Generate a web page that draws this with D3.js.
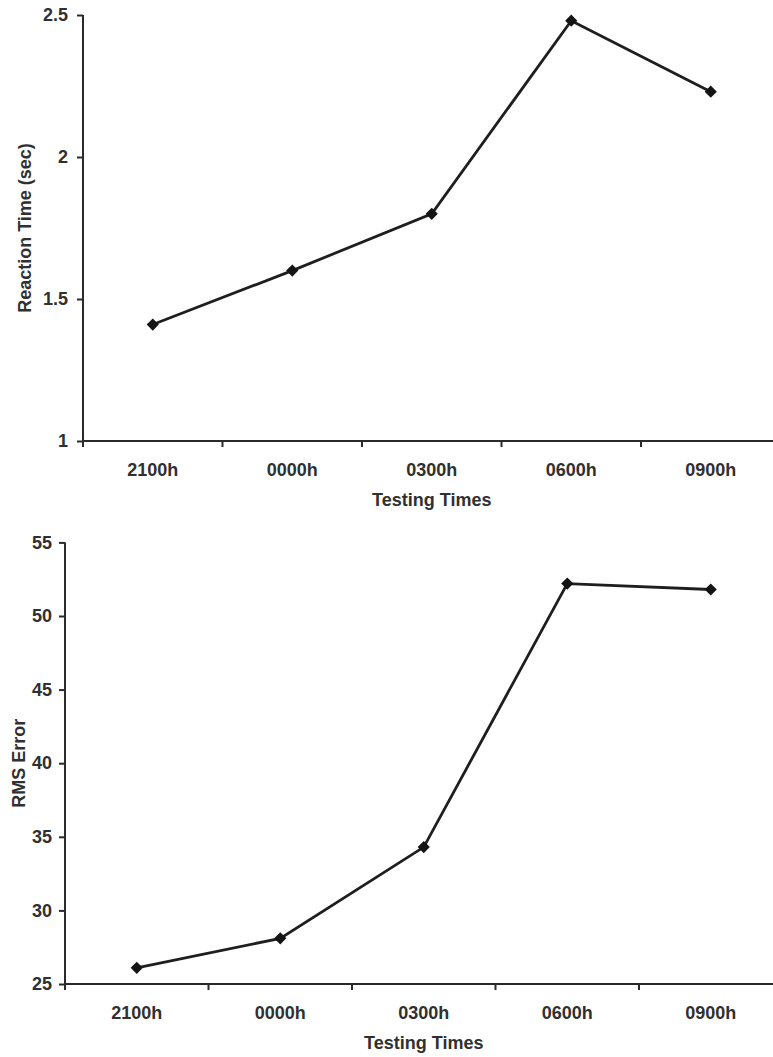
<!DOCTYPE html>
<html>
<head>
<meta charset="utf-8">
<script src="https://cdn.jsdelivr.net/npm/d3@7"></script>
<style>
  html, body { margin: 0; padding: 0; background: #fff; }
  svg { display: block; }
  text { font-family: "Liberation Sans", Arial, sans-serif; font-weight: bold; fill: #303030; }
</style>
</head>
<body>
<svg id="chart" width="773" height="1057"></svg>
<script>
// ---- data ----
const categories = ["2100h", "0000h", "0300h", "0600h", "0900h"];
const reactionTime = [1.41, 1.60, 1.80, 2.48, 2.23];
const rmsError = [26.1, 28.1, 34.3, 52.2, 51.8];
const rtTicks = [1, 1.5, 2, 2.5];
const rtTickLabels = ["1", "1.5", "2", "2.5"];
const rmsTicks = [25, 30, 35, 40, 45, 50, 55];
const xTitle = "Testing Times";
const rtTitle = "Reaction Time (sec)";
const rmsTitle = "RMS Error";

const svg = d3.select("#chart");
const ink = "#2a2a2a";

function drawPanel(cfg) {
  const g = svg.append("g");
  const x = d3.scaleBand().domain(categories).range([cfg.left, cfg.right]).padding(0);
  const y = d3.scaleLinear().domain(cfg.domain).range([cfg.bottom, cfg.top]);

  // y axis
  const yAxis = d3.axisLeft(y).tickValues(cfg.ticks).tickSize(6).tickPadding(cfg.yPad)
    .tickFormat((d, i) => cfg.tickLabels[i]);
  const ya = g.append("g").attr("transform", `translate(${cfg.left},0)`).call(yAxis);
  ya.select(".domain").remove();
  ya.selectAll(".tick line").attr("stroke", ink).attr("stroke-width", 2);
  ya.selectAll(".tick text").style("font-size", "18px").attr("fill", "#303030");
  g.append("line")
    .attr("x1", cfg.left).attr("x2", cfg.left)
    .attr("y1", y(cfg.domain[1])).attr("y2", y(cfg.domain[0]) + 6)
    .attr("stroke", ink).attr("stroke-width", 2);

  // x axis
  const xAxis = d3.axisBottom(x).tickSize(0).tickPadding(22);
  const xa = g.append("g").attr("transform", `translate(0,${cfg.bottom})`).call(xAxis);
  xa.select(".domain").remove();
  xa.selectAll(".tick text").style("font-size", "18px").attr("fill", "#303030");
  g.append("line")
    .attr("x1", cfg.left).attr("x2", cfg.right)
    .attr("y1", cfg.bottom).attr("y2", cfg.bottom)
    .attr("stroke", ink).attr("stroke-width", 2);
  const bounds = categories.slice(1).map(c => x(c));
  g.selectAll(".btick").data(bounds).enter().append("line")
    .attr("x1", d => d).attr("x2", d => d)
    .attr("y1", cfg.bottom).attr("y2", cfg.bottom + 6)
    .attr("stroke", ink).attr("stroke-width", 2);

  // titles
  g.append("text")
    .attr("x", (cfg.left + cfg.right) / 2).attr("y", cfg.bottom + 65)
    .attr("text-anchor", "middle").style("font-size", "18px").text(xTitle);
  g.append("text")
    .attr("transform", `translate(${cfg.titleX},${(cfg.top + cfg.bottom) / 2}) rotate(-90)`)
    .attr("text-anchor", "middle").style("font-size", "18px").text(cfg.yTitle);

  // line
  const line = d3.line()
    .x((d, i) => x(categories[i]) + x.bandwidth() / 2)
    .y(d => y(d));
  g.append("path").datum(cfg.values).attr("d", line)
    .attr("fill", "none").attr("stroke", "#1e1e1e").attr("stroke-width", 2.8)
    .attr("stroke-linejoin", "miter");

  const sym = d3.symbol().type(d3.symbolSquare).size(74);
  g.selectAll(".mk").data(cfg.values).enter().append("path")
    .attr("d", sym)
    .attr("transform", (d, i) => `translate(${x(categories[i]) + x.bandwidth() / 2},${y(d)}) rotate(45)`)
    .attr("fill", "#141414");
}

drawPanel({
  left: 83, right: 780.5, top: 15, bottom: 441,
  domain: [1, 2.5], ticks: rtTicks, tickLabels: rtTickLabels,
  values: reactionTime, yTitle: rtTitle, titleX: 30.5, yPad: 9
});

drawPanel({
  left: 65, right: 782.5, top: 542.4, bottom: 984,
  domain: [25, 55], ticks: rmsTicks, tickLabels: rmsTicks.map(String),
  values: rmsError, yTitle: rmsTitle, titleX: 25, yPad: 7
});
</script>
</body>
</html>
